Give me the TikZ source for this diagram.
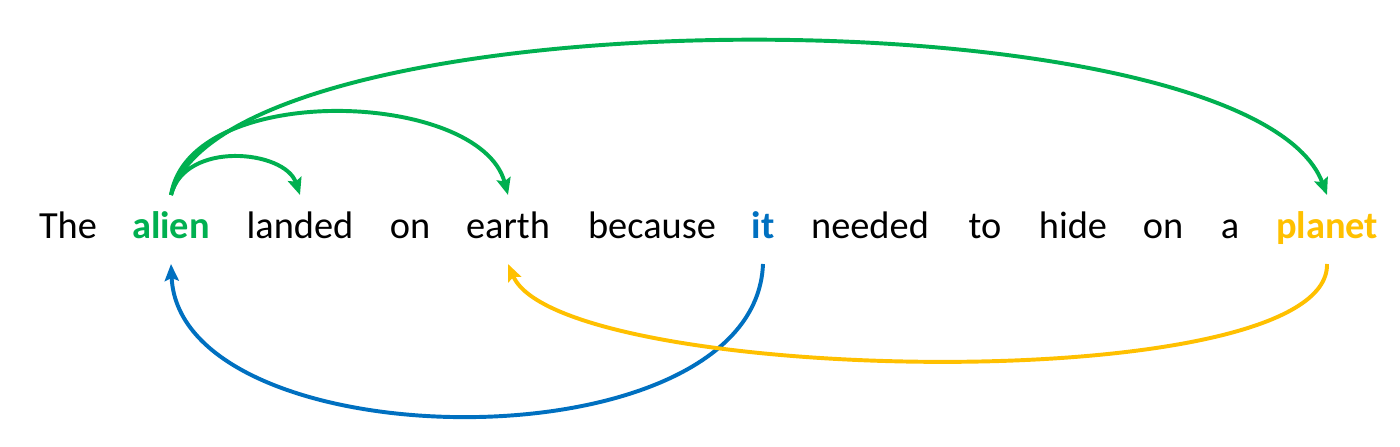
\documentclass[tikz,border=0pt]{standalone}
\usepackage{fontspec}
\setmainfont{Carlito}
\usepackage{xcolor}
\definecolor{attgreen}{RGB}{0,176,80}
\definecolor{attblue}{RGB}{0,112,192}
\definecolor{attyellow}{RGB}{255,192,0}
\usetikzlibrary{arrows.meta,positioning}

\begin{document}
\begin{tikzpicture}[x=0.25mm, y=-0.25mm,
  word/.style={font=\fontsize{27.3}{33}\selectfont, anchor=base, inner sep=0pt,
    text height=27*0.25mm, text depth=8*0.25mm, outer ysep=17*0.25mm},
  link/.style={line width=2.8pt, -{Stealth[length=12pt,width=10pt,inset=2pt]}}]
  \useasboundingbox (0,0) rectangle (1400,447);

  % Sentence
  \node[word] (the)     at (68,239)   {The};
  \node[word, text=attgreen, font=\fontsize{27.3}{33}\selectfont\bfseries] (alien) at (171,239) {alien};
  \node[word] (landed)  at (300,239)  {landed};
  \node[word] (on1)     at (410,239)  {on};
  \node[word] (earth)   at (508,239)  {earth};
  \node[word] (because) at (652,239)  {because};
  \node[word, text=attblue, font=\fontsize{27.3}{33}\selectfont\bfseries] (it) at (763,239) {it};
  \node[word] (needed)  at (870,239)  {needed};
  \node[word] (to)      at (985,239)  {to};
  \node[word] (hide)    at (1073,239) {hide};
  \node[word] (on2)     at (1163,239) {on};
  \node[word] (a)       at (1230,239) {a};
  \node[word, text=attyellow, font=\fontsize{27.3}{33}\selectfont\bfseries] (planet) at (1327,239) {planet};

  % Attention from alien
  \draw[link, attgreen] (alien.north) .. controls +(14,-55) and +(-15,-45) .. (landed.north);
  \draw[link, attgreen] (alien.north) .. controls +(19,-115) and +(-28,-105) .. (earth.north);
  \draw[link, attgreen] (alien.north) .. controls +(59,-205) and +(-77,-205) .. (planet.north);

  % it -> alien, planet -> earth
  \draw[link, attblue] (it.south) .. controls +(-8,206) and +(9,198) .. (alien.south);
  \draw[link, attyellow] (planet.south) .. controls +(3,136) and +(52,121) .. (earth.south);
\end{tikzpicture}
\end{document}
